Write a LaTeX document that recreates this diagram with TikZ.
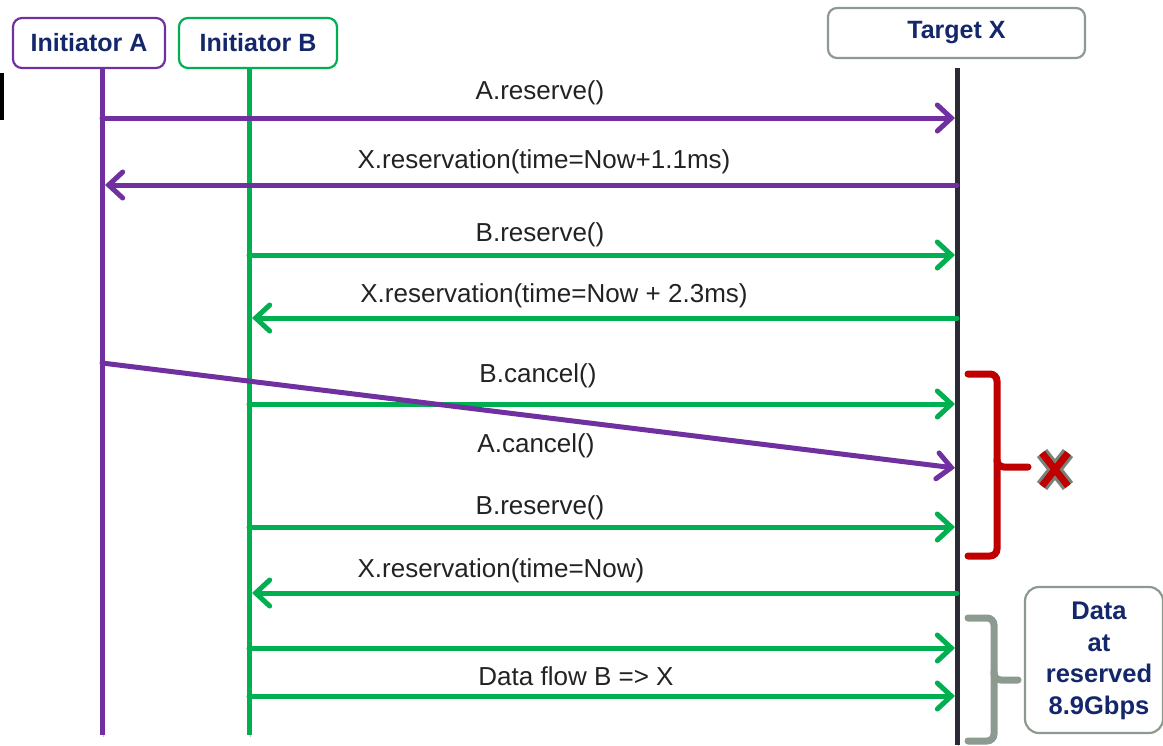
\documentclass[tikz,border=0pt]{standalone}
\usepackage{fontspec}
\setmainfont{Liberation Sans}
\usetikzlibrary{arrows.meta}
\definecolor{pur}{HTML}{7030A0}
\definecolor{grn}{HTML}{00B050}
\definecolor{brkred}{HTML}{C00000}
\definecolor{navy}{HTML}{14276B}
\definecolor{grayline}{HTML}{8C9A90}
\definecolor{lifeX}{HTML}{2B2B36}
\definecolor{txt}{HTML}{222222}
\begin{document}
\begin{tikzpicture}[x=1pt,y=-1pt,
  shadowed/.style={preaction={draw=black,opacity=0.25,transform canvas={shift={(1.6pt,-1.6pt)}}}},
  head/.style={draw=#1,line width=2.2pt,rounded corners=9pt,fill=white,
    font=\fontsize{25}{29}\selectfont\bfseries,text=navy,inner sep=0pt},
  life/.style={draw=#1,line width=5pt,shadowed},
  msg/.style={draw=#1,line width=5pt,line cap=round,shadowed,
    -{Straight Barb[length=14pt,width=26pt,line cap=round]}},
  lbl/.style={font=\fontsize{26}{30}\selectfont,text=txt,inner sep=0pt},
  brace/.style={draw=#1,line width=7pt,rounded corners=7pt,line cap=round}]
\useasboundingbox (0,0) rectangle (1163,745);

% lifeline heads
\node[head=pur,minimum width=152pt,minimum height=50pt] (ia) at (89,43) {Initiator A};
\node[head=grn,minimum width=158pt,minimum height=50pt] (ib) at (258,43) {Initiator B};
\node[head=grayline,minimum width=257pt,minimum height=50pt] (tx) at (956.5,33) {Target X};

% stray mark at the left edge
\fill[black] (0,73) rectangle (4,120);

% lifelines
\coordinate (aTop) at (102,68);  \coordinate (aBot) at (102,735);
\coordinate (bTop) at (249,68);  \coordinate (bBot) at (249,735);
\coordinate (xTop) at (957,68);  \coordinate (xBot) at (957,745);
\draw[life=pur] (aTop) -- (aBot);
\draw[life=grn] (bTop) -- (bBot);
\draw[life=lifeX] (xTop) -- (xBot);

% message end points on the lifelines
\coordinate (a1) at (102,118);  \coordinate (x1) at (955,118);
\coordinate (a2) at (105,185);  \coordinate (x2) at (957,185);
\coordinate (b3) at (249,255);  \coordinate (x3) at (955,255);
\coordinate (b4) at (252,318);  \coordinate (x4) at (957,318);
\coordinate (b5) at (249,404);  \coordinate (x5) at (955,404);
\coordinate (a6) at (102,363);  \coordinate (x6) at (955,468);
\coordinate (b7) at (249,527);  \coordinate (x7) at (955,527);
\coordinate (b8) at (252,593);  \coordinate (x8) at (957,593);
\coordinate (b9) at (249,648);  \coordinate (x9) at (955,648);
\coordinate (b10) at (249,696); \coordinate (x10) at (955,696);

% messages
\draw[msg=pur] (a1) -- (x1);
\draw[msg=pur] (x2) -- (a2);
\draw[msg=grn] (b3) -- (x3);
\draw[msg=grn] (x4) -- (b4);
\draw[msg=grn] (b5) -- (x5);
\draw[msg=pur] (a6) -- (x6);
\draw[msg=grn] (b7) -- (x7);
\draw[msg=grn] (x8) -- (b8);
\draw[msg=grn] (b9) -- (x9);
\draw[msg=grn] (b10) -- (x10);

% message labels
\node[lbl] (l1) at (540,93) {A.reserve()};
\node[lbl] (l2) at (544,162) {X.reservation(time=Now+1.1ms)};
\node[lbl] (l3) at (540,235) {B.reserve()};
\node[lbl] (l4) at (554,296) {X.reservation(time=Now + 2.3ms)};
\node[lbl] (l5) at (538,376) {B.cancel()};
\node[lbl] (l6) at (536,446) {A.cancel()};
\node[lbl] (l7) at (540,508) {B.reserve()};
\node[lbl] (l8) at (501,571) {X.reservation(time=Now)};
\node[lbl] (l9) at (576,676) {Data flow B => X};

% red brace over the conflicting calls
\coordinate (rb) at (1028,467);
\draw[brace=brkred] (968,374) -- (997,374) -- (997,467) -- (rb);
\draw[brace=brkred] (997,460) -- (997,556) -- (968,556);

% failure cross
\coordinate (c1) at (1042,453); \coordinate (c2) at (1068,486);
\coordinate (c3) at (1068,453); \coordinate (c4) at (1042,486);
\draw[line width=13pt,color=grayline!85!black] (c1) -- (c2) (c3) -- (c4);
\draw[line width=7pt,color=brkred] (c1) -- (c2) (c3) -- (c4);

% grey brace over the data transfer
\coordinate (gb) at (1018,680);
\draw[brace=grayline] (968,618) -- (994,618) -- (994,680) -- (gb);
\draw[brace=grayline] (994,672) -- (994,741) -- (968,741);

% result box
\node[draw=grayline,line width=2.2pt,rounded corners=14pt,fill=white,
  minimum width=138pt,minimum height=146pt,inner sep=0pt] (db) at (1094,660) {};
\node[font=\fontsize{25.5}{31.5}\selectfont\bfseries,text=navy,align=center,inner sep=0pt]
  (dt) at (1099,661) {Data\\at\\reserved\\8.9Gbps};
\end{tikzpicture}
\end{document}
